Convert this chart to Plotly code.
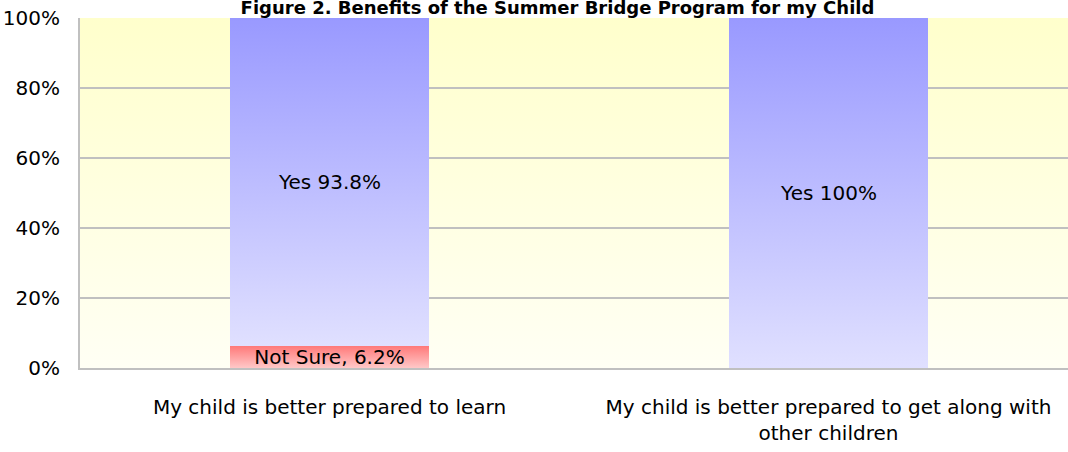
import base64
import json
import plotly.graph_objects as go

# Survey results: share of parents answering each option
categories = [
    "My child is better prepared to learn",
    "My child is better prepared to get along with<br>other children",
]
not_sure = [6.2, None]
yes = [93.8, 100]

y_ticks = [0, 20, 40, 60, 80, 100]
y_tick_labels = [f"{v}%" for v in y_ticks]

title_text = "Figure 2. Benefits of the Summer Bridge Program for my Child"

FONT = "DejaVu Sans"
YES_TOP, YES_BOTTOM = "#9999ff", "#e0e0ff"
NS_TOP, NS_BOTTOM = "#ff7a7a", "#ffc8c8"
BG_TOP, BG_BOTTOM = "#ffffcc", "#fffff4"
GRID = "#c0c0c0"

fig = go.Figure()
fig.add_trace(go.Bar(
    x=categories, y=not_sure, name="Not Sure",
    text=[None if v is None else f"Not Sure, {v}%" for v in not_sure],
    marker=dict(color=NS_TOP, line=dict(width=0)),
))
fig.add_trace(go.Bar(
    x=categories, y=yes, name="Yes",
    text=[f"Yes {v:g}%" for v in yes],
    marker=dict(color=YES_TOP, line=dict(width=0)),
))
fig.update_traces(
    textposition="inside", insidetextanchor="middle", textangle=0,
    constraintext="none", cliponaxis=False,
    insidetextfont=dict(family=FONT, size=20, color="black"),
    hoverinfo="skip",
)

# vertical yellow wash behind the plot area
bg_svg = (
    '<svg xmlns="http://www.w3.org/2000/svg" width="100" height="100" '
    'viewBox="0 0 100 100" preserveAspectRatio="none">'
    '<defs><linearGradient id="g" x1="0" y1="0" x2="0" y2="1">'
    f'<stop offset="0" stop-color="{BG_TOP}"/><stop offset="1" stop-color="{BG_BOTTOM}"/>'
    '</linearGradient></defs><rect width="100" height="100" fill="url(#g)"/></svg>'
)
bg_uri = "data:image/svg+xml;base64," + base64.b64encode(bg_svg.encode()).decode()

fig.update_layout(
    width=1068, height=452,
    margin=dict(l=80, r=0, t=18, b=84),
    barmode="stack", bargap=0.6,
    showlegend=False,
    paper_bgcolor="white", plot_bgcolor="rgba(0,0,0,0)",
    font=dict(family=FONT, color="black"),
    title=dict(
        text=f"<b>{title_text}</b>", x=0.522, xanchor="center",
        xref="container", yref="container", y=0.997, yanchor="top",
        font=dict(family=FONT, size=18, color="black"),
    ),
    images=[dict(
        source=bg_uri, xref="paper", yref="paper", x=0, y=1,
        sizex=1, sizey=1, xanchor="left", yanchor="top",
        sizing="stretch", layer="below",
    )],
    xaxis=dict(
        range=[-0.5, 1.48], showline=True, linecolor=GRID, linewidth=2,
        showgrid=False, ticks="", ticklabelstandoff=20,
        tickfont=dict(family=FONT, size=20),
    ),
    yaxis=dict(
        range=[0, 100], tickmode="array", tickvals=y_ticks, ticktext=y_tick_labels,
        showline=True, linecolor=GRID, linewidth=2,
        showgrid=True, gridcolor=GRID, gridwidth=2, zeroline=False,
        ticks="", ticklabelstandoff=14,
        tickfont=dict(family=FONT, size=20),
    ),
)

# shade each bar from its top colour down to a paler bottom
gradients = [(NS_TOP, NS_BOTTOM), (YES_TOP, YES_BOTTOM)]
post_js = """
var gd = document.getElementById('{plot_id}');
var ns = 'http://www.w3.org/2000/svg';
var svg = gd.querySelector('svg.main-svg');
var defs = svg.querySelector('defs');
var grads = %s;
grads.forEach(function (c, i) {
  var g = document.createElementNS(ns, 'linearGradient');
  g.setAttribute('id', 'barfade' + i);
  g.setAttribute('x1', '0'); g.setAttribute('y1', '0');
  g.setAttribute('x2', '0'); g.setAttribute('y2', '1');
  [[0, c[0]], [1, c[1]]].forEach(function (s) {
    var st = document.createElementNS(ns, 'stop');
    st.setAttribute('offset', s[0]);
    st.setAttribute('stop-color', s[1]);
    g.appendChild(st);
  });
  defs.appendChild(g);
});
gd.querySelectorAll('.barlayer .trace').forEach(function (tr, i) {
  tr.querySelectorAll('.point path').forEach(function (p) {
    p.style.fill = 'url(#barfade' + i + ')';
  });
});
""" % json.dumps(gradients)

fig.write_html("out.html", post_script=post_js)
